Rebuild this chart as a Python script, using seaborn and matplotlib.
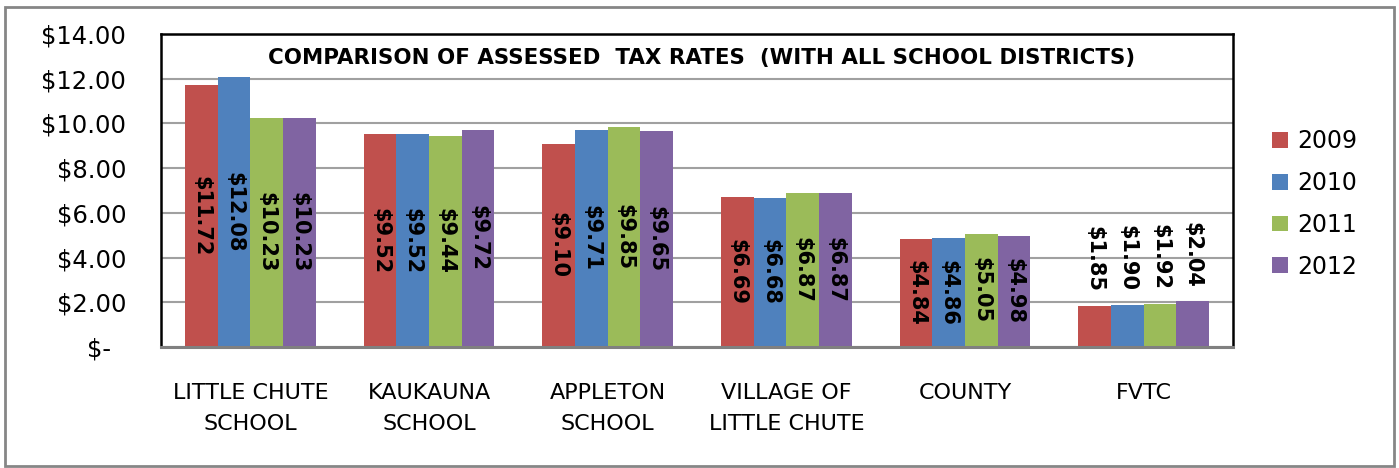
import matplotlib
matplotlib.use("Agg")
import matplotlib.pyplot as plt
import numpy as np
import pandas as pd
import seaborn as sns

districts = ["LITTLE CHUTE\nSCHOOL", "KAUKAUNA\nSCHOOL", "APPLETON\nSCHOOL",
             "VILLAGE OF\nLITTLE CHUTE", "COUNTY", "FVTC"]
years = ["2009", "2010", "2011", "2012"]
rates_2009 = [11.72, 9.52, 9.10, 6.69, 4.84, 1.85]
rates_2010 = [12.08, 9.52, 9.71, 6.68, 4.86, 1.90]
rates_2011 = [10.23, 9.44, 9.85, 6.87, 5.05, 1.92]
rates_2012 = [10.23, 9.72, 9.65, 6.87, 4.98, 2.04]
yticks = [0, 2, 4, 6, 8, 10, 12, 14]
ytick_labels = ["$-  ", "$2.00", "$4.00", "$6.00", "$8.00", "$10.00", "$12.00", "$14.00"]
colors = ["#C0504D", "#4F81BD", "#9BBB59", "#8064A2"]


def main():
    sns.set_style("white")
    plt.rcParams["font.family"] = ["DejaVu Sans"]
    plt.rcParams["text.color"] = "black"
    plt.rcParams["xtick.color"] = "black"
    plt.rcParams["ytick.color"] = "black"

    rows = []
    for year, vals in zip(years, [rates_2009, rates_2010, rates_2011, rates_2012]):
        for d, v in zip(districts, vals):
            rows.append({"district": d, "year": year, "rate": v})
    df = pd.DataFrame(rows)

    fig = plt.figure(figsize=(13.99, 4.68), dpi=100)
    ax = fig.add_axes([161 / 1399, 1 - 347 / 468, (1233 - 161) / 1399, (347 - 34) / 468])

    sns.barplot(data=df, x="district", y="rate", hue="year", order=districts,
                hue_order=years, palette=colors, saturation=1, width=0.73,
                errorbar=None, linewidth=0, ax=ax)

    # labels: centred in the bar, except the short FVTC bars
    for cont, vals in zip(ax.containers, [rates_2009, rates_2010, rates_2011, rates_2012]):
        inside = [f"${v:.2f}" if v > 3 else "" for v in vals]
        outside = [f"${v:.2f}" if v <= 3 else "" for v in vals]
        ax.bar_label(cont, labels=inside, label_type="center", rotation=270,
                     fontsize=15, fontweight="bold", color="black")
        ax.bar_label(cont, labels=outside, label_type="edge", rotation=270,
                     padding=10, fontsize=15, fontweight="bold", color="black")

    ax.set_ylim(0, 14)
    ax.set_yticks(yticks)
    ax.set_yticklabels(ytick_labels, fontsize=17.5)
    ax.set_xticks(range(len(districts)))
    ax.set_xticklabels(districts, fontsize=16, linespacing=1.7)
    ax.tick_params(axis="y", length=0, pad=25)
    ax.tick_params(axis="x", length=0, pad=26)
    ax.set_xlabel("")
    ax.set_ylabel("")

    ax.grid(axis="y", color="#A0A0A0", linewidth=1.5)
    ax.set_axisbelow(True)
    for side in ["top", "right", "left"]:
        ax.spines[side].set_color("black")
        ax.spines[side].set_linewidth(1.8)
    ax.spines["bottom"].set_color("#808080")
    ax.spines["bottom"].set_linewidth(2.2)

    ax.text(0.504, 0.923, "COMPARISON OF ASSESSED  TAX RATES  (WITH ALL SCHOOL DISTRICTS)",
            transform=ax.transAxes, ha="center", va="center",
            fontsize=15.4, fontweight="bold")

    ax.legend(loc="center left", bbox_to_anchor=(1251 / 1399, 1 - 204 / 468),
              bbox_transform=fig.transFigure, frameon=False, fontsize=17,
              handlelength=0.65, handleheight=0.65, handletextpad=0.4,
              labelspacing=0.75)

    fig.patches.append(plt.Rectangle((5 / 1399, 2 / 468), 1389 / 1399, 459 / 468,
                                     transform=fig.transFigure, fill=False,
                                     edgecolor="#868686", linewidth=2))

    fig.savefig("out.png", dpi=100)
    plt.close(fig)


if __name__ == "__main__":
    main()
